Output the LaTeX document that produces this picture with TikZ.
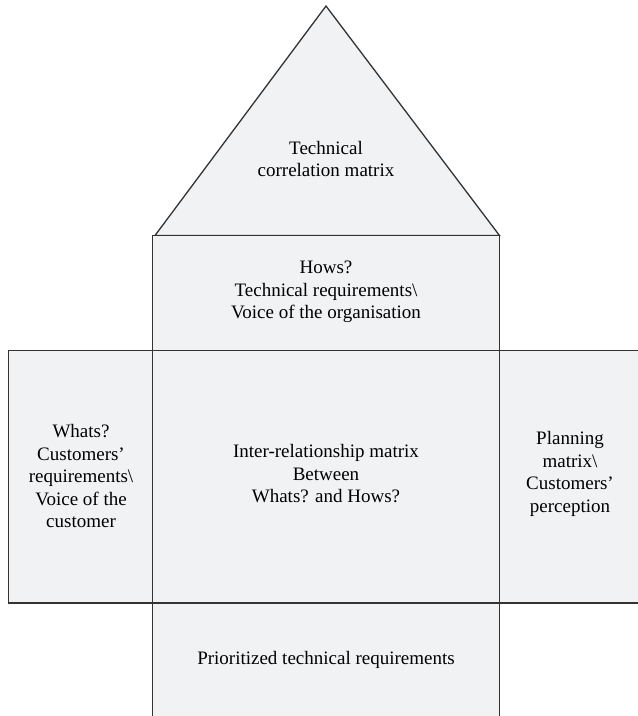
\documentclass[tikz,border=0pt]{standalone}
\usepackage{fontspec}
\setmainfont{Liberation Serif}
\definecolor{boxfill}{HTML}{F1F2F4}
\definecolor{boxline}{HTML}{333333}
\begin{document}
\begin{tikzpicture}[x=1pt,y=-1pt,
  part/.style={fill=boxfill,draw=boxline,line width=1.3pt},
  lbl/.style={align=center,font=\fontsize{19}{22.5}\selectfont,inner sep=0pt}]
\useasboundingbox (0,0) rectangle (638,716);
\clip (0,0) rectangle (638,716);
% shapes
\draw[part] (155,235.5) -- (326,6) -- (499.5,235.5) -- cycle;
\draw[part] (152.5,235.5) rectangle (499.5,350.5);
\draw[part] (8.5,350.5) rectangle (152.5,603);
\draw[part] (499.5,350.5) rectangle (650,603);
\draw[part] (152.5,350.5) rectangle (499.5,603);
\draw[part] (152.5,603) rectangle (499.5,730);
% coordinates
\coordinate (roofc) at (326,159);
\coordinate (howc) at (326,292);
\coordinate (midc) at (326,474);
\coordinate (leftc) at (81,476);
\coordinate (rightc) at (570,474);
\coordinate (botc) at (326,660);
% labels
\node[lbl] (roof) at (roofc) {Technical\\correlation matrix};
\node[lbl] (hows) at (howc) {Hows?\\Technical requirements\textbackslash\\Voice of the organisation};
\node[lbl] (mid) at (midc) {Inter-relationship matrix\\Between\\Whats? and Hows?};
\node[lbl] (whats) at (leftc) {Whats?\\Customers'\\requirements\textbackslash\\Voice of the\\customer};
\node[lbl] (plan) at (rightc) {Planning\\matrix\textbackslash\\Customers'\\perception};
\node[lbl] (prio) at (botc) {Prioritized technical requirements};
\end{tikzpicture}
\end{document}
